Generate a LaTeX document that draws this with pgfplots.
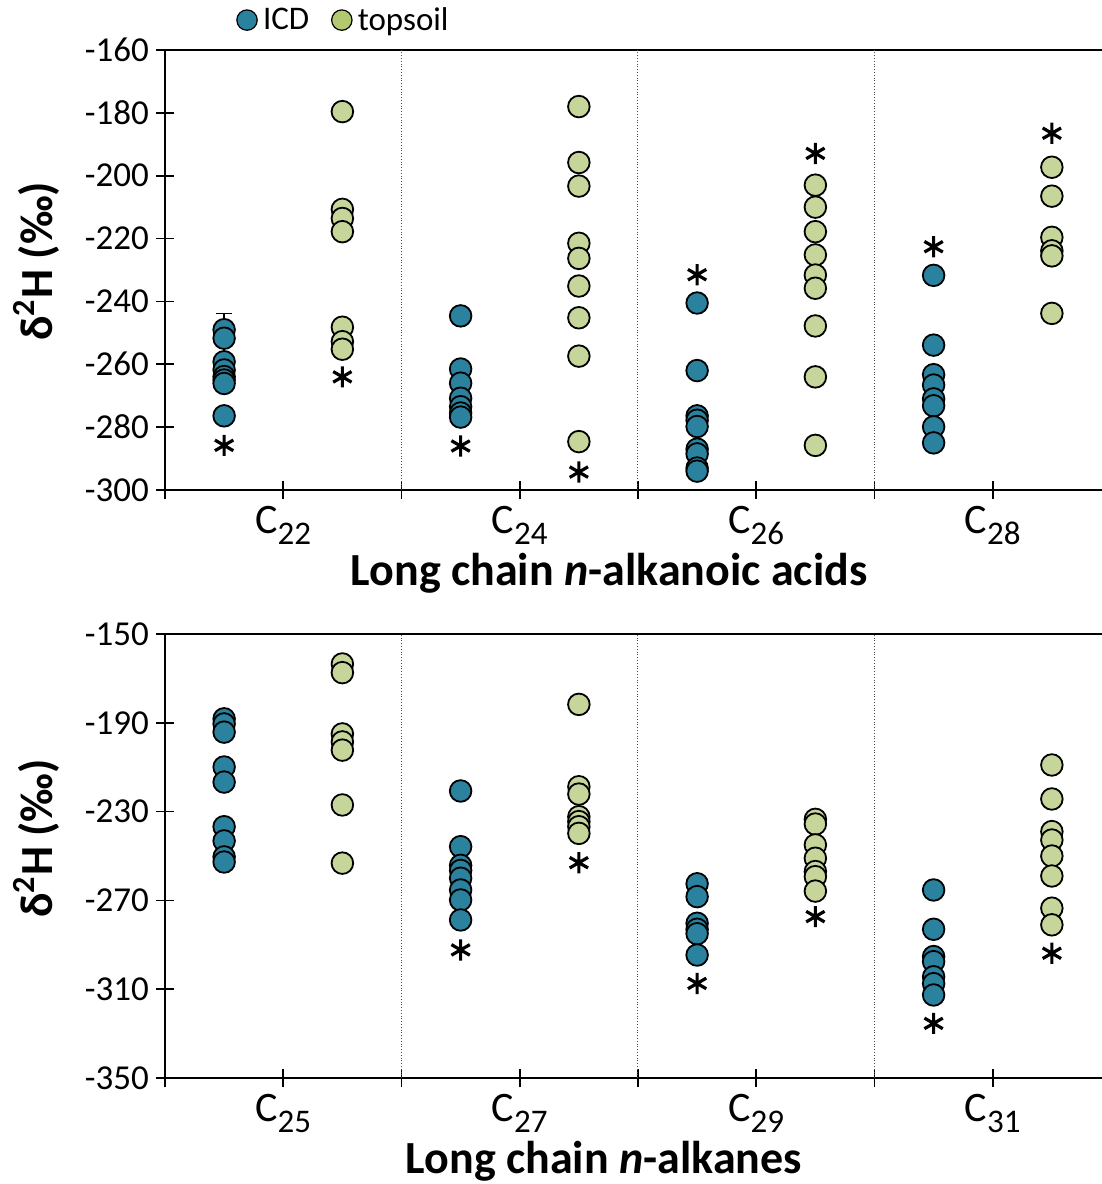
\documentclass[border=0pt]{standalone}
\usepackage{fontspec}
\setmainfont{Carlito}
\usepackage{pgfplots}
\pgfplotsset{compat=1.18}

\definecolor{icd}{HTML}{2A829E}
\definecolor{soil}{HTML}{C6D69B}
\definecolor{soilleg}{HTML}{B3C96F}

% C with a lowered chain-length subscript
\newcommand{\Cn}[1]{C\raisebox{-5.5pt}{\fontsize{16.5}{16.5}\selectfont#1}}

\pgfplotsset{
  panel/.style={
    scale only axis, width=468.5pt,
    xmin=0, xmax=3.962, clip=false,
    axis x line*=box, axis y line*=left,
    axis line style={line width=0.8pt},
    tick align=center, major tick length=9pt,
    every tick/.style={black, line width=0.8pt},
    xtick={0,0.5,1,1.5,2,2.5,3,3.5}, xtick pos=bottom, ytick pos=left,
    extra x ticks={1,2,3}, extra x tick labels={},
    extra x tick style={grid=major, major tick length=0pt},
    major grid style={densely dotted, black!70, line width=0.5pt},
    yticklabel style={font=\fontsize{17.5}{17.5}\selectfont},
    xticklabel style={font=\fontsize{21}{21}\selectfont, anchor=base, yshift=-17pt},
    ylabel={δ\textsuperscript{2}H (‰)},
    ylabel style={font=\bfseries\fontsize{23}{23}\selectfont, anchor=center},
    xlabel style={font=\bfseries\fontsize{23}{23}\selectfont, anchor=base},
  },
  icd/.style={only marks, mark=*, mark size=5.4pt,
    mark options={fill=icd, draw=black, line width=0.9pt}, forget plot},
  soil/.style={only marks, mark=*, mark size=5.4pt,
    mark options={fill=soil, draw=black, line width=0.9pt}, forget plot},
  star/.style={only marks, mark=asterisk, mark size=5.3pt,
    mark options={draw=black, line width=1.6pt}, forget plot},
}

\begin{document}
\begin{tikzpicture}
\useasboundingbox (-82.5pt,25pt) rectangle (468.5pt,-567pt);

% ---------- n-alkanoic acids ----------
\begin{axis}[panel, at={(0,0)}, anchor=north west, height=220pt,
  ymin=-300, ymax=-160, ytick={-300,-280,...,-160},
  yticklabels={-300,-280,-260,-240,-220,-200,-180,-160},
  xticklabels={{},\Cn{22},{},\Cn{24},{},\Cn{26},{},\Cn{28}},
  xlabel={Long chain \textit{n}-alkanoic acids},
  xlabel style={at={(axis description cs:0.474,-0.216)}},
  ylabel style={at={(axis description cs:-0.137,0.52)}},
  legend columns=2,
  legend style={draw=none, fill=none, inner sep=0pt,
    font=\fontsize{16.5}{16.5}\selectfont,
    at={(axis description cs:0.0758,1.068)}, anchor=west,
    /tikz/every even column/.append style={column sep=9pt}},
  legend image code/.code={\draw[#1] plot coordinates {(5.3pt,0pt)};
    \path[draw=none] (0pt,0pt) (11.3pt,0pt);},
]
\addlegendimage{only marks, mark=*, mark size=5.1pt,
  mark options={fill=icd, draw=black, line width=0.6pt}}
\addlegendentry{ICD}
\addlegendimage{only marks, mark=*, mark size=5.1pt,
  mark options={fill=soilleg, draw=black, line width=0.6pt}}
\addlegendentry{topsoil}

\addplot[icd, error bars/.cd, y dir=plus, y explicit,
  error bar style={line width=0.8pt, black},
  error mark options={mark size=4pt, line width=0.8pt, black, rotate=90}]
  coordinates {(0.25,-249) +- (0,5.2)};
\addplot[icd] coordinates {
  (0.25,-251.7) (0.25,-259.2) (0.25,-261.8) (0.25,-263.9) (0.25,-265)
  (0.25,-266.1) (0.25,-276.4)
  (1.25,-244.6) (1.25,-261.5) (1.25,-266) (1.25,-270.8) (1.25,-273.5)
  (1.25,-275.5) (1.25,-276.8)
  (2.25,-240.5) (2.25,-262) (2.25,-276.4) (2.25,-277.8) (2.25,-279.8)
  (2.25,-287) (2.25,-288.5) (2.25,-293) (2.25,-294)
  (3.25,-231.7) (3.25,-253.9) (3.25,-263.3) (3.25,-266.6) (3.25,-271)
  (3.25,-273.2) (3.25,-279.9) (3.25,-285)
};
\addplot[soil] coordinates {
  (0.75,-179.6) (0.75,-210.7) (0.75,-213.6) (0.75,-217.8) (0.75,-248.2)
  (0.75,-252.8) (0.75,-255.2)
  (1.75,-178) (1.75,-195.8) (1.75,-203.3) (1.75,-221.5) (1.75,-226.3)
  (1.75,-235.1) (1.75,-245.2) (1.75,-257.4) (1.75,-284.6)
  (2.75,-203) (2.75,-210) (2.75,-217.8) (2.75,-225.2) (2.75,-231.6)
  (2.75,-235.8) (2.75,-247.8) (2.75,-264) (2.75,-285.8)
  (3.75,-197.3) (3.75,-206.5) (3.75,-219.6) (3.75,-223.9) (3.75,-225.5)
  (3.75,-243.8)
};
\addplot[star] coordinates {
  (0.25,-285.8) (0.75,-264) (1.25,-286) (1.75,-294.3)
  (2.25,-231.5) (2.75,-192.9) (3.25,-222.6) (3.75,-186.5)
};
\end{axis}

% ---------- n-alkanes ----------
\begin{axis}[panel, at={(0,-292pt)}, anchor=north west, height=222pt,
  ymin=-350, ymax=-150, ytick={-350,-310,...,-150},
  yticklabels={-350,-310,-270,-230,-190,-150},
  xticklabels={{},\Cn{25},{},\Cn{27},{},\Cn{29},{},\Cn{31}},
  xlabel={Long chain \textit{n}-alkanes},
  xlabel style={at={(axis description cs:0.4685,-0.214)}},
  ylabel style={at={(axis description cs:-0.137,0.54)}},
]
\addplot[icd] coordinates {
  (0.25,-188.2) (0.25,-190.5) (0.25,-194.2) (0.25,-209.9) (0.25,-216.7)
  (0.25,-236.8) (0.25,-243.2) (0.25,-250.4) (0.25,-252.7)
  (1.25,-220.7) (1.25,-245.8) (1.25,-254.2) (1.25,-256.5) (1.25,-260)
  (1.25,-265.3) (1.25,-269.8) (1.25,-278.8)
  (2.25,-262.5) (2.25,-268.3) (2.25,-280.3) (2.25,-283) (2.25,-285)
  (2.25,-294.6)
  (3.25,-265.3) (3.25,-283) (3.25,-295.3) (3.25,-297.6) (3.25,-304.4)
  (3.25,-307.5) (3.25,-312.6)
};
\addplot[soil] coordinates {
  (0.75,-163.5) (0.75,-167.4) (0.75,-195) (0.75,-198.6) (0.75,-202.3)
  (0.75,-227) (0.75,-253.2)
  (1.75,-181.7) (1.75,-218.8) (1.75,-222.1) (1.75,-232.3) (1.75,-234.5)
  (1.75,-236.8) (1.75,-239.8)
  (2.75,-233.5) (2.75,-235.6) (2.75,-245) (2.75,-251) (2.75,-257)
  (2.75,-259.3) (2.75,-265.8)
  (3.75,-209) (3.75,-224.3) (3.75,-239) (3.75,-242.8) (3.75,-250)
  (3.75,-259) (3.75,-273.5) (3.75,-281)
};
\addplot[star] coordinates {
  (1.25,-292.3) (1.75,-253) (2.25,-307.4) (2.75,-277.3)
  (3.25,-325.4) (3.75,-293.8)
};
\end{axis}
\end{tikzpicture}
\end{document}
